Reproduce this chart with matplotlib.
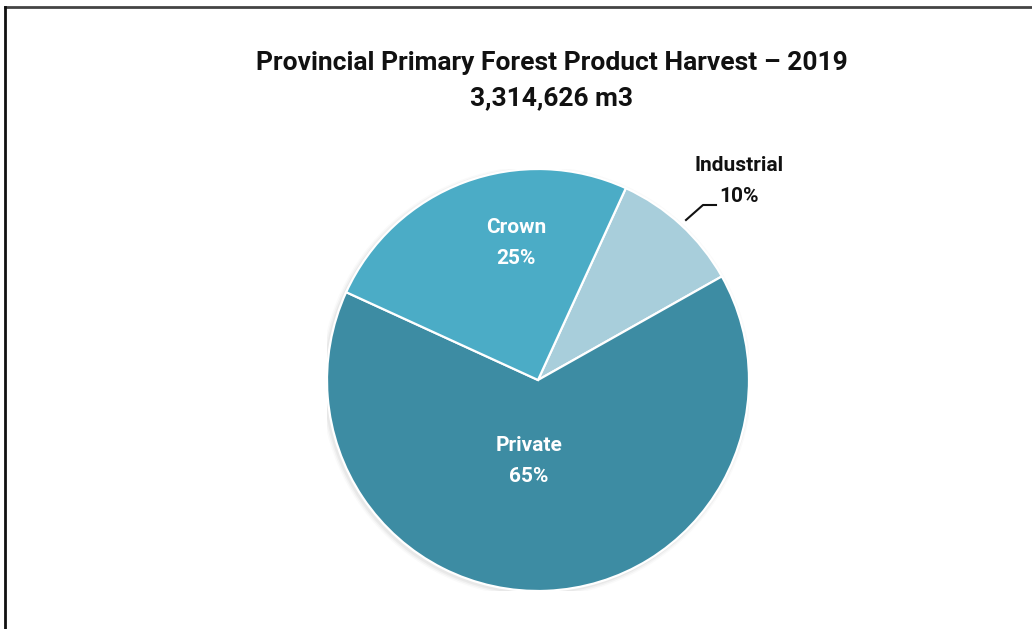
import matplotlib.pyplot as plt
from matplotlib.patches import Circle

# data
labels = ['Industrial', 'Private', 'Crown']
shares = [10, 65, 25]
colors = ['#A8CEDB', '#3D8CA3', '#4BACC6']
title1 = 'Provincial Primary Forest Product Harvest \u2013 2019'
title2 = '3,314,626 m3'

plt.rcParams['font.family'] = ['Roboto', 'DejaVu Sans']

W, H = 1032, 629
fig = plt.figure(figsize=(W/100, H/100), dpi=100)

# frame (top and left edges only, rest is cropped off)
fig.add_artist(plt.Line2D([5/W, 1], [1-7/H, 1-7/H], color='#444444', lw=2, transform=fig.transFigure))
fig.add_artist(plt.Line2D([5/W, 5/W], [0, 1-7/H], color='#111111', lw=2, transform=fig.transFigure))

fig.text(552/W, 1-63/H, title1, ha='center', va='center', fontsize=19, fontweight='bold', color='#111111')
fig.text(552/W, 1-98/H, title2, ha='center', va='center', fontsize=19, fontweight='bold', color='#111111')

cx, cy, r = 538, 380, 211
ax = fig.add_axes([(cx-r)/W, (H-cy-r)/H, 2*r/W, 2*r/H])

# soft shadow
for i, a in enumerate([0.04, 0.03, 0.02]):
    ax.add_patch(Circle((-0.008, -0.008), 1.0 + 0.007*(i+1), color='black', alpha=a, lw=0, zorder=0))

wedges, _ = ax.pie(shares, colors=colors, startangle=65.4, counterclock=False,
                   radius=1, wedgeprops=dict(edgecolor='white', linewidth=1.6),
                   frame=True)
ax.set_xlim(-1, 1)
ax.set_ylim(-1, 1)
ax.set_aspect('equal')
ax.axis('off')

tk = dict(ha='center', va='center', fontsize=15, fontweight='bold', linespacing=1.75)
ax.text(-22/r, 137/r, 'Crown\n25%', color='white', **tk)
ax.text(-9/r, -81/r, 'Private\n65%', color='white', **tk)
ax.text(201/r, 199/r, 'Industrial\n10%', color='#111111', **tk)
ax.plot([148/r, 165/r, 178/r], [160/r, 175/r, 175/r], color='#111111', lw=1.5, clip_on=False)

fig.savefig('out.png', dpi=100)
